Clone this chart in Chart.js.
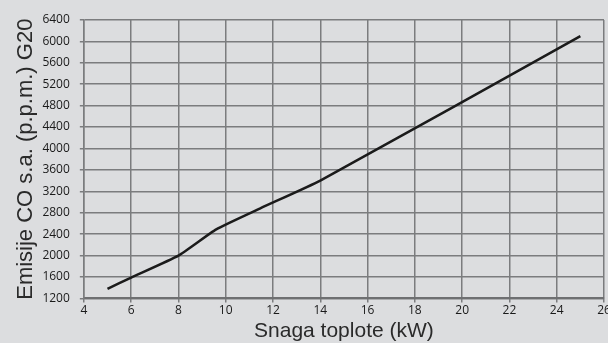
<!DOCTYPE html>
<html>
<head>
<meta charset="utf-8">
<script src="https://cdn.jsdelivr.net/npm/chart.js@4"></script>
<style>
  html, body { margin: 0; padding: 0; background: #dcdddf; }
  #wrap { width: 608px; height: 343px; }
</style>
</head>
<body>
<div id="wrap"><canvas id="chart"></canvas></div>
<script>
// podatki odčitani z grafa
const snaga = [5, 6, 8, 9.6, 11.5, 14, 25];
const emisije = [1380, 1590, 2000, 2490, 2890, 3400, 6100];
const xTicks = [4, 26, 2];      // min, max, korak
const yTicks = [1200, 6400, 400];

const mreza = "#7b7c7e";
const pisava = { family: "'Open Sans', sans-serif", size: 12 };
const naslov = { family: "'Liberation Sans', Arial, sans-serif", size: 21 };

new Chart(document.getElementById("chart"), {
  type: "line",
  data: {
    datasets: [{
      data: snaga.map((x, i) => ({ x, y: emisije[i] })),
      borderColor: "#1b1b1b",
      borderWidth: 2.5,
      pointRadius: 0,
      tension: 0.15,
      fill: false
    }]
  },
  options: {
    responsive: true,
    maintainAspectRatio: false,
    animation: false,
    layout: { padding: { left: 4, right: 4, top: 20, bottom: -1 } },
    plugins: {
      legend: { display: false },
      tooltip: { enabled: false }
    },
    scales: {
      x: {
        type: "linear",
        min: xTicks[0],
        max: xTicks[1],
        afterFit: (s) => { s.paddingRight = 0; },
        ticks: { stepSize: xTicks[2], color: "#1a1a1a", font: pisava, padding: 1, maxRotation: 0 },
        grid: { color: mreza, lineWidth: 1.5, tickLength: 4, tickColor: mreza },
        border: { color: "#6e6f71", width: 2 },
        title: {
          display: true,
          text: "Snaga toplote (kW)",
          color: "#2a2a2a",
          font: naslov,
          padding: { top: 0, bottom: 0 }
        }
      },
      y: {
        min: yTicks[0],
        max: yTicks[1],
        ticks: {
          stepSize: yTicks[2], color: "#1a1a1a", font: pisava, padding: 10,
          callback: (v) => String(v)
        },
        grid: { color: mreza, lineWidth: 1.5, tickLength: 4, tickColor: mreza },
        border: { color: mreza, width: 1.5 },
        title: {
          display: true,
          text: "Emisije CO s.a. (p.p.m.) G20",
          color: "#2a2a2a",
          font: { family: naslov.family, size: 22 },
          padding: { top: 9, bottom: -7 }
        }
      }
    }
  }
});
</script>
</body>
</html>
